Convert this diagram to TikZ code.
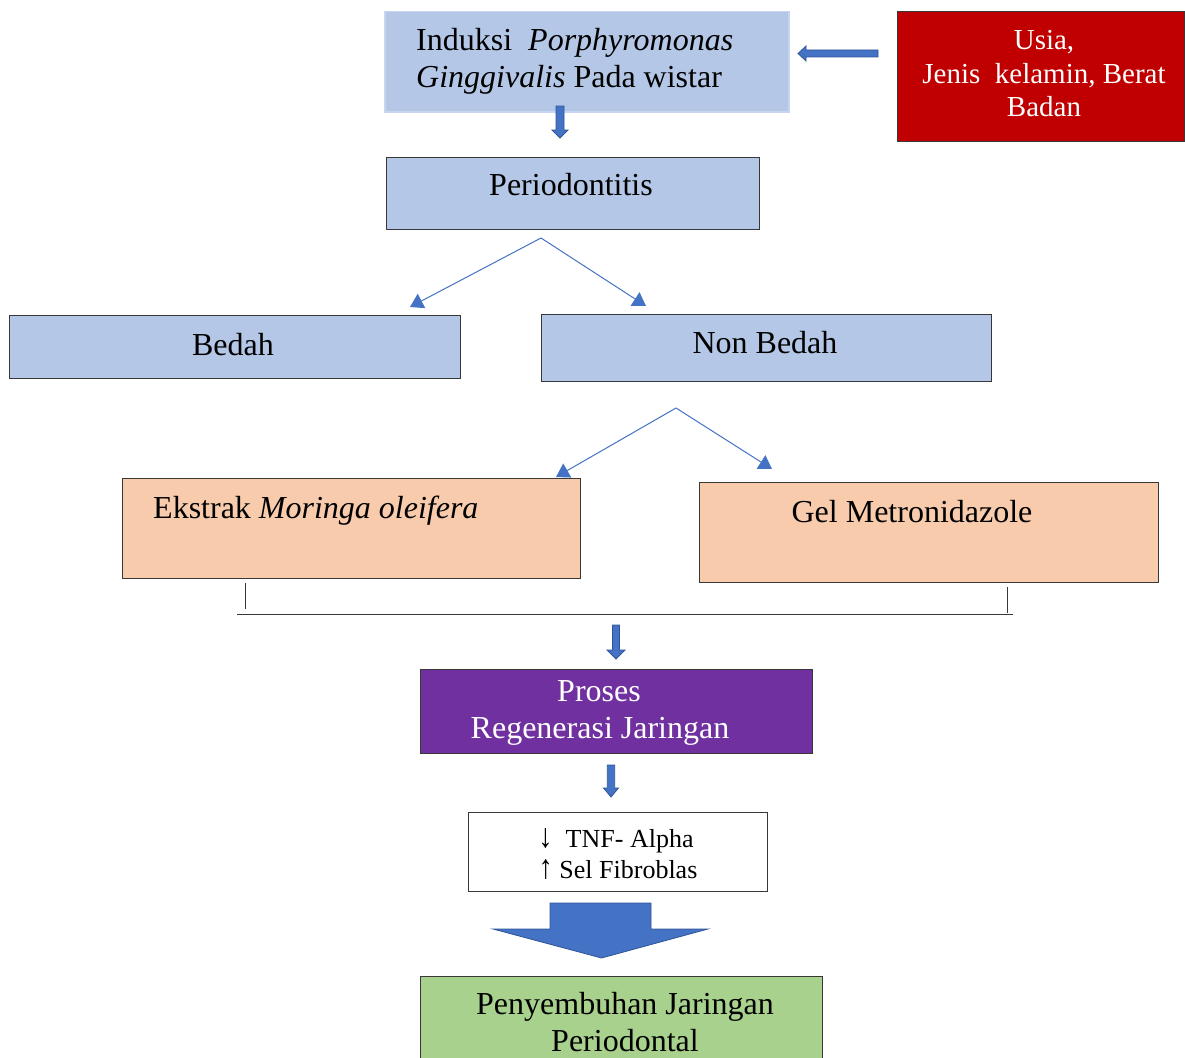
\documentclass[tikz,border=0pt]{standalone}
\usepackage{fontspec}
\setmainfont{Liberation Serif}
\usetikzlibrary{arrows.meta}
\definecolor{lblue}{HTML}{B4C7E7}
\definecolor{lbedge}{HTML}{C8D5EE}
\definecolor{peach}{HTML}{F8CBAD}
\definecolor{dred}{HTML}{C00000}
\definecolor{purp}{HTML}{7030A0}
\definecolor{lgreen}{HTML}{A9D18E}
\definecolor{ablue}{HTML}{4472C4}
\definecolor{adark}{HTML}{2F5597}
\definecolor{edge}{HTML}{383838}
\newcommand{\tallglyph}[1]{\scalebox{1.1}[1.3]{#1}}
\begin{document}
\begin{tikzpicture}[x=1pt,y=-1pt,
  box/.style={draw=edge, line width=1.2pt, inner sep=0pt, anchor=north west},
  big/.style={inner sep=0pt, font=\fontsize{32}{37}\selectfont},
  mid/.style={inner sep=0pt, font=\fontsize{29}{34}\selectfont},
  small/.style={inner sep=0pt, font=\fontsize{26}{31}\selectfont},
  thinarr/.style={draw=ablue, line width=1pt, -{Triangle[length=13pt,width=16pt]}},
  blk/.style={fill=ablue, draw=adark, line width=0.8pt, line join=miter},
  brk/.style={draw=edge, line width=1pt}]

\useasboundingbox (0,0) rectangle (1185,1057);

% boxes
\node[box, draw=lbedge, line width=1.5pt, fill=lblue, minimum width=404pt, minimum height=100pt] (ind) at (384,11) {};
\node[box, fill=dred, minimum width=287pt, minimum height=130pt] (usia) at (897,11) {};
\node[box, fill=lblue, minimum width=373pt, minimum height=72pt] (per) at (386,157) {};
\node[box, fill=lblue, minimum width=451pt, minimum height=63pt] (bedah) at (9,315) {};
\node[box, fill=lblue, minimum width=450pt, minimum height=67pt] (nonb) at (541,314) {};
\node[box, fill=peach, minimum width=458pt, minimum height=100pt] (ekstrak) at (122,478) {};
\node[box, fill=peach, minimum width=459pt, minimum height=100pt] (gel) at (699,482) {};
\node[box, fill=purp, minimum width=392pt, minimum height=84pt] (proses) at (420,669) {};
\node[box, fill=white, minimum width=299pt, minimum height=79pt] (tnf) at (468,812) {};
\node[box, fill=lgreen, minimum width=402pt, minimum height=86pt] (peny) at (420,976) {};

% texts
\node[big, anchor=base west] (indA) at (416,51) {Induksi\ \ \textit{Porphyromonas}};
\node[big, anchor=base west] (indB) at (416,88) {\textit{Ginggivalis} Pada wistar};
\node[mid, anchor=base, text=white] (usA) at (1044,49) {Usia,};
\node[mid, anchor=base, text=white] (usB) at (1044,83) {Jenis\ \ kelamin, Berat};
\node[mid, anchor=base, text=white] (usC) at (1044,116) {Badan};
\node[big, anchor=base] (perT) at (571,195) {Periodontitis};
\node[big, anchor=base] (bedT) at (233,355) {Bedah};
\node[big, anchor=base] (nonT) at (765,353) {Non Bedah};
\node[big, anchor=base west] (ekT) at (153,518) {Ekstrak \textit{Moringa oleifera}};
\node[big, anchor=base] (gelT) at (912,522) {Gel Metronidazole};
\node[big, anchor=base, text=white] (prA) at (599,701) {Proses};
\node[big, anchor=base, text=white] (prB) at (600,738) {Regenerasi Jaringan};
\node[small, anchor=base] (tnA) at (616,847) {\tallglyph{↓}\ \ TNF- Alpha};
\node[small, anchor=base] (tnB) at (618,878) {\tallglyph{↑} Sel Fibroblas};
\node[big, anchor=base] (peA) at (625,1014) {Penyembuhan Jaringan};
\node[big, anchor=base] (peB) at (625,1051) {Periodontal};

% thin branching arrows
\coordinate (f1) at (541,238);
\coordinate (t1) at (410,307);
\coordinate (t2) at (646,306);
\draw[thinarr] (f1) -- (t1);
\draw[thinarr] (f1) -- (t2);
\coordinate (f2) at (676,408);
\coordinate (t3) at (556,477);
\coordinate (t4) at (772,469);
\draw[thinarr] (f2) -- (t3);
\draw[thinarr] (f2) -- (t4);

% bracket
\draw[brk] (245,583) -- (245,609);
\draw[brk] (1007,587) -- (1007,613);
\draw[brk] (237,614) -- (1013,614);

% block arrows
% usia -> induksi (left)
\draw[blk] (878,50) -- (806,50) -- (806,46) -- (798,53.5) -- (806,61) -- (806,57) -- (878,57) -- cycle;
% induksi -> periodontitis
\draw[blk] (556,106) -- (564,106) -- (564,130) -- (568,130) -- (560,138) -- (552,130) -- (556,130) -- cycle;
% bracket -> proses
\draw[blk] (612.5,625) -- (619.5,625) -- (619.5,650) -- (625,650) -- (616,659) -- (607,650) -- (612.5,650) -- cycle;
% proses -> tnf
\draw[blk] (607.3,765) -- (614.7,765) -- (614.7,788) -- (618.5,788) -- (611,797) -- (603.5,788) -- (607.3,788) -- cycle;
% tnf -> penyembuhan (big)
\draw[blk] (550,903) -- (651,903) -- (651,929) -- (708,929) -- (601.5,958) -- (493,929) -- (550,929) -- cycle;
\end{tikzpicture}
\end{document}
